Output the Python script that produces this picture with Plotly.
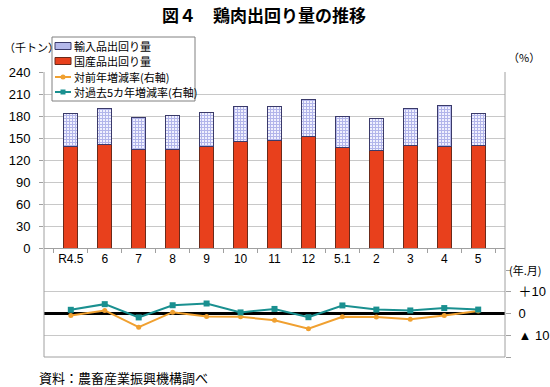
import plotly.graph_objects as go

categories = ["R4.5", "6", "7", "8", "9", "10", "11", "12", "5.1", "2", "3", "4", "5"]
domestic = [139, 141, 134, 134, 138, 145, 146, 152, 137, 133, 140, 139, 140]
imports = [44, 49, 44, 47, 47, 48, 47, 50, 43, 44, 50, 55, 44]
yoy_change = [-0.9, 1.4, -6.3, 0.6, -1.4, -1.5, -3.1, -7.0, -1.5, -1.6, -2.6, -0.9, 1.2]
five_year_change = [1.7, 4.3, -1.8, 3.8, 4.6, 0.5, 2.1, -1.7, 3.7, 1.8, 1.4, 2.5, 1.8]

series_names = ["輸入品出回り量", "国産品出回り量", "対前年増減率(右軸)", "対過去5カ年増減率(右軸)"]

left_ticks = [0, 30, 60, 90, 120, 150, 180, 210, 240]
right_tickvals = [-20, -10, 0, 10, 20]
right_ticktext = ["", "▲ 10", "0", "＋10", ""]

NUMFONT = "Liberation Sans, Arial, Noto Sans CJK JP, sans-serif"
JPFONT = "Noto Sans CJK JP, sans-serif"
RED = "#E8401C"
RED_EDGE = "#6b2a1a"
BLUE_FG = "#6f76d6"
BLUE_EDGE = "#3a3a6a"
ORANGE = "#F0A030"
TEAL = "#1A9090"
GRID = "#c8c8c8"
AXIS = "#a0a0a0"

L, R, T, B = 44, 505, 72, 357
W, H = 550, 387


def px(x):
    return (x - L) / (R - L)


def py(y):
    return (B - y) / (B - T)


fig = go.Figure()
fig.add_trace(go.Bar(
    x=categories, y=domestic, name=series_names[1],
    marker=dict(color=RED, line=dict(color=RED_EDGE, width=1)),
))
fig.add_trace(go.Bar(
    x=categories, y=imports, name=series_names[0],
    marker=dict(color="white", line=dict(color=BLUE_EDGE, width=1),
                pattern=dict(shape="+", fgcolor=BLUE_FG, bgcolor="#f4f4ff", size=3, solidity=0.6)),
))
fig.add_trace(go.Scatter(
    x=categories, y=yoy_change, name=series_names[2], yaxis="y2",
    mode="lines+markers", line=dict(color=ORANGE, width=2),
    marker=dict(symbol="circle", size=5, color=ORANGE),
))
fig.add_trace(go.Scatter(
    x=categories, y=five_year_change, name=series_names[3], yaxis="y2",
    mode="lines+markers", line=dict(color=TEAL, width=2),
    marker=dict(symbol="square", size=6, color=TEAL),
))

top_dom = [1 - (248 - T) / (B - T), 1]
bot_dom = [0, (B - 270) / (B - T)]

shapes = [
    dict(type="line", xref="paper", yref="paper", x0=0, x1=0, y0=0, y1=1,
         line=dict(color=AXIS, width=1)),
    dict(type="line", xref="paper", yref="paper", x0=1, x1=1, y0=0, y1=1,
         line=dict(color=AXIS, width=1)),
    dict(type="line", xref="paper", yref="paper", x0=0, x1=1, y0=0, y1=0,
         line=dict(color=AXIS, width=1)),
    # legend box
    dict(type="rect", xref="paper", yref="paper", x0=px(52), x1=px(195), y0=py(101), y1=py(37),
         fillcolor="white", line=dict(color="#808080", width=1), layer="above"),
]

rows = [46, 61, 77, 92]
annotations = []
shapes.append(dict(type="rect", xref="paper", yref="paper", x0=px(55), x1=px(71),
                   y0=py(rows[0] + 3.5), y1=py(rows[0] - 3.5), fillcolor="#b4b8ea",
                   line=dict(color=BLUE_EDGE, width=1), layer="above"))
shapes.append(dict(type="rect", xref="paper", yref="paper", x0=px(55), x1=px(71),
                   y0=py(rows[1] + 3.5), y1=py(rows[1] - 3.5), fillcolor=RED,
                   line=dict(color=RED_EDGE, width=1), layer="above"))
for row, color, sym in [(rows[2], ORANGE, "circle"), (rows[3], TEAL, "rect")]:
    shapes.append(dict(type="line", xref="paper", yref="paper", x0=px(55), x1=px(71),
                       y0=py(row), y1=py(row), line=dict(color=color, width=2), layer="above"))
    shapes.append(dict(type=sym, xref="paper", yref="paper", x0=px(60.5), x1=px(65.5),
                       y0=py(row + 2.5), y1=py(row - 2.5), fillcolor=color,
                       line=dict(color=color, width=0), layer="above"))
for row, name in zip(rows, series_names):
    annotations.append(dict(text=name, xref="paper", yref="paper", x=px(72), y=py(row),
                            xanchor="left", yanchor="middle", showarrow=False,
                            font=dict(size=11, family=JPFONT)))

annotations += [
    dict(text="<b>図４　鶏肉出回り量の推移</b>", xref="paper", yref="paper",
         x=px(264), y=py(14), xanchor="center", yanchor="middle",
         showarrow=False, font=dict(size=17, family=JPFONT)),
    dict(text="（千トン）", xref="paper", yref="paper", x=px(2), y=py(47),
         xanchor="left", yanchor="middle", showarrow=False, font=dict(size=11, family=JPFONT)),
    dict(text="（%）", xref="paper", yref="paper", x=px(506), y=py(57),
         xanchor="left", yanchor="middle", showarrow=False, font=dict(size=11, family=JPFONT)),
    dict(text="(年.月)", xref="paper", yref="paper", x=px(507), y=py(270),
         xanchor="left", yanchor="middle", showarrow=False, font=dict(size=11, family=JPFONT)),
    dict(text="資料：農畜産業振興機構調べ", xref="paper", yref="paper", x=px(37), y=py(377),
         xanchor="left", yanchor="middle", showarrow=False, font=dict(size=13, family=JPFONT)),
]

fig.update_layout(
    width=W, height=H,
    margin=dict(l=L, r=W - R, t=T, b=H - B, autoexpand=False),
    paper_bgcolor="white", plot_bgcolor="white",
    font=dict(family=NUMFONT, size=12, color="#000"),
    barmode="stack", bargap=0.59,
    showlegend=False,
    xaxis=dict(type="category", anchor="y", showline=True, linecolor=AXIS,
               ticks="outside", tickson="boundaries", ticklen=4, tickcolor=AXIS,
               tickangle=0, showgrid=False, tickfont=dict(size=12), automargin=False),
    yaxis=dict(domain=top_dom, range=[0, 240], tickvals=left_ticks,
               showgrid=True, gridcolor=GRID, zeroline=False,
               ticks="outside", ticklen=4, tickcolor=AXIS, showline=False,
               tickfont=dict(size=13), ticklabelstandoff=6, automargin=False),
    yaxis2=dict(domain=bot_dom, range=[-20, 20], side="right", anchor="x",
                tickvals=right_tickvals, ticktext=right_ticktext,
                showgrid=True, gridcolor=GRID,
                zeroline=True, zerolinecolor="#000", zerolinewidth=2.5,
                ticks="outside", ticklen=5, tickcolor=AXIS,
                tickfont=dict(size=13), ticklabelstandoff=5, automargin=False),
    shapes=shapes,
    annotations=annotations,
)

fig.write_html("out.html", config={"displayModeBar": False},
               post_script="document.body.style.margin='0';document.body.style.overflow='hidden';")
